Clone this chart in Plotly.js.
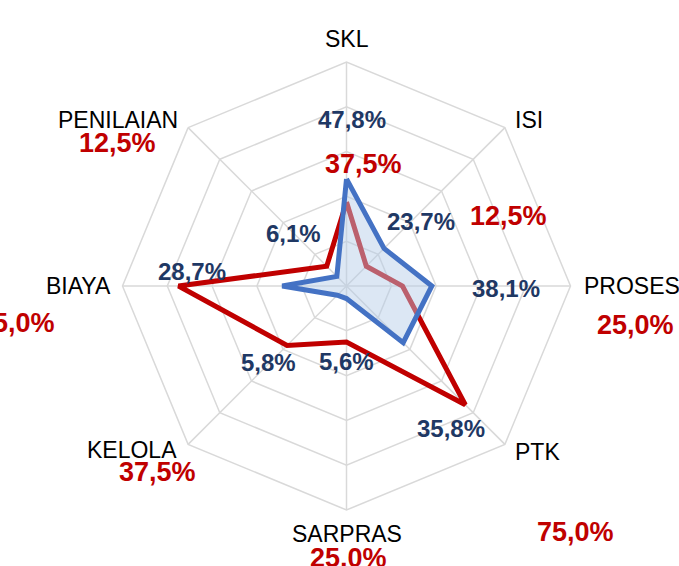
<!DOCTYPE html>
<html>
<head>
<meta charset="utf-8">
<script src="https://cdn.plot.ly/plotly-3.0.1.min.js"></script>
<style>
  html, body { margin: 0; padding: 0; background: #fff; }
  #chart { width: 679px; height: 566px; }
</style>
</head>
<body>
<div id="chart"></div>
<script>
// ---- data ----
const categories = ["SKL", "ISI", "PROSES", "PTK", "SARPRAS", "KELOLA", "BIAYA", "PENILAIAN"];
const blueValues = [47.8, 23.7, 38.1, 35.8, 5.6, 5.8, 28.7, 6.1];
const redValues  = [37.5, 12.5, 25.0, 75.0, 25.0, 37.5, 75.0, 12.5];

// ---- label placement (pixels in the 679x566 canvas, layout only: [x, y, xanchor]) ----
const catLabelPx  = [[346.5,38.5,'center'],[513,120,'left'],[582,285.5,'left'],[513,451.5,'left'],
                     [346.5,534,'center'],[179,450,'right'],[113,285.5,'right'],[180,120,'right']];
const blueLabelPx = [[351.5,119.5],[421,221],[505.5,288.5],[451,429],[346.5,361.5],[268.5,362.5],[192,271],[293,233]];
const redLabelPx  = [[363,164],[508.5,216],[635,324.5],[575.5,532],[349,558],[157,471.5],[16,323],[117,142.5]];

const W = 679, H = 566;
const FONT = 'Liberation Sans, Arial, sans-serif';
const fmt = v => v.toFixed(1).replace('.', ',') + '%';
const close = arr => arr.concat([arr[0]]);

const traces = [
  {
    type: 'scatterpolar',
    r: close(redValues),
    theta: close(categories),
    mode: 'lines',
    line: { color: '#C00000', width: 5 },
    hoverinfo: 'skip',
    showlegend: false
  },
  {
    type: 'scatterpolar',
    r: close(blueValues),
    theta: close(categories),
    mode: 'lines',
    fill: 'toself',
    fillcolor: 'rgba(180,205,232,0.47)',
    line: { color: '#4472C4', width: 5 },
    hoverinfo: 'skip',
    showlegend: false
  }
];

const annotations = [];
categories.forEach((c, i) => {
  annotations.push({
    xref: 'paper', yref: 'paper',
    x: catLabelPx[i][0] / W, y: 1 - catLabelPx[i][1] / H,
    xanchor: catLabelPx[i][2], yanchor: 'middle',
    text: c, showarrow: false,
    font: { family: FONT, size: 23, color: '#000000' }
  });
});
blueValues.forEach((v, i) => {
  annotations.push({
    xref: 'paper', yref: 'paper',
    x: blueLabelPx[i][0] / W, y: 1 - blueLabelPx[i][1] / H,
    xanchor: 'center', yanchor: 'middle',
    text: '<b>' + fmt(v) + '</b>', showarrow: false,
    font: { family: FONT, size: 24, color: '#1F3864' }
  });
});
redValues.forEach((v, i) => {
  annotations.push({
    xref: 'paper', yref: 'paper',
    x: redLabelPx[i][0] / W, y: 1 - redLabelPx[i][1] / H,
    xanchor: 'center', yanchor: 'middle',
    text: '<b>' + fmt(v) + '</b>', showarrow: false,
    font: { family: FONT, size: 27, color: '#C00000' }
  });
});

const layout = {
  width: W, height: H,
  margin: { l: 0, r: 0, t: 0, b: 0 },
  paper_bgcolor: '#ffffff',
  showlegend: false,
  font: { family: FONT, color: '#000000' },
  polar: {
    domain: { x: [122.5 / W, 570.5 / W], y: [1 - 510 / H, 1 - 62 / H] },
    bgcolor: 'rgba(0,0,0,0)',
    gridshape: 'linear',
    radialaxis: {
      range: [0, 100], dtick: 20,
      showticklabels: false, ticks: '', showline: false,
      gridcolor: '#D9D9D9', gridwidth: 1.5
    },
    angularaxis: {
      rotation: 90, direction: 'clockwise',
      ticks: '', showticklabels: false,
      linecolor: '#D9D9D9', linewidth: 1.5,
      gridcolor: '#D9D9D9', gridwidth: 1.5
    }
  },
  annotations: annotations
};

Plotly.newPlot('chart', traces, layout, { displayModeBar: false, staticPlot: true });
</script>
</body>
</html>
